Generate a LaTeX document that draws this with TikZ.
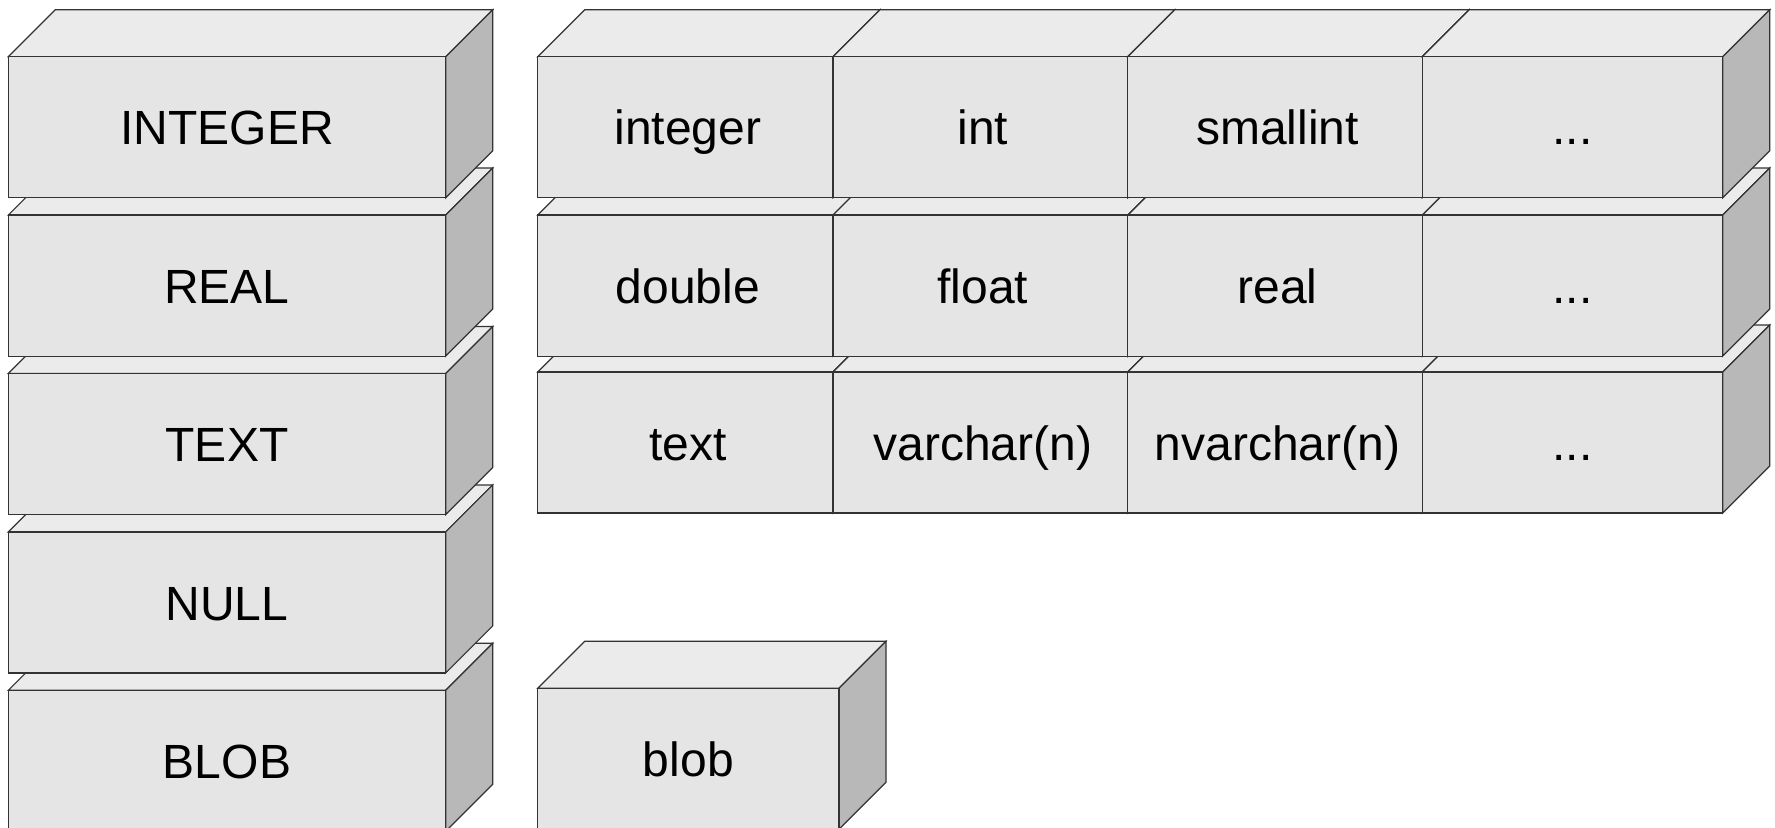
\documentclass[tikz,border=0pt]{standalone}
\usepackage{fontspec}
\setmainfont{Liberation Sans}
\definecolor{frontc}{HTML}{E5E5E5}
\definecolor{topc}{HTML}{EBEBEB}
\definecolor{sidec}{HTML}{B8B8B8}
\definecolor{edgec}{HTML}{333333}
\tikzset{
  frontface/.style={fill=frontc, draw=edgec, line width=0.6pt, line join=miter},
  topface/.style={fill=topc, draw=edgec, line width=0.6pt},
  sideface/.style={fill=sidec, draw=edgec, line width=0.6pt},
  lbl/.style={inner sep=0pt, anchor=base, font=\fontsize{24}{28}\selectfont, text=black}
}
% #1 name, #2 x, #3 y (front top-left), #4 width, #5 height, #6 text, #7 text x shift
\newcommand\dbcube[7]{%
  \filldraw[topface] (#2,#3) -- ++(47,-47) -- ++(#4,0) -- ++(-47,47) -- cycle;
  \filldraw[sideface] (#2+#4,#3) -- ++(47,-47) -- ++(0,#5) -- ++(-47,47) -- cycle;
  \filldraw[frontface] (#2,#3) rectangle ++(#4,#5);
  \node[lbl] (#1) at (#2+#4/2+#7,#3+88.3) {#6};
}
\begin{document}
\begin{tikzpicture}[x=0.5pt,y=-0.5pt]
\useasboundingbox (0,0) rectangle (1775,828);
\clip (0,0) rectangle (1775,828);
% left column, bottom to top
\dbcube{BLOB}{8.3}{690.3}{437.4}{141}{BLOB}{0}
\dbcube{NULL}{8.3}{531.9}{437.4}{141}{NULL}{0}
\dbcube{TEXT}{8.3}{373.5}{437.4}{141}{TEXT}{0}
\dbcube{REAL}{8.3}{215.1}{437.4}{141}{REAL}{0}
\dbcube{INTEGER}{8.3}{56.7}{437.4}{141}{INTEGER}{0}
% right grid, row 3
\dbcube{text}{537.7}{372}{295.3}{141}{text}{2.5}
\dbcube{varchar}{833}{372}{294.8}{141}{varchar(n)}{2.5}
\dbcube{nvarchar}{1127.8}{372}{294.5}{141}{nvarchar(n)}{2.5}
\dbcube{dots3}{1422.3}{372}{300.4}{141}{...}{0}
% row 2
\dbcube{double}{537.7}{215.1}{295.3}{141}{double}{2.5}
\dbcube{float}{833}{215.1}{294.8}{141}{float}{2.5}
\dbcube{real}{1127.8}{215.1}{294.5}{141}{real}{2.5}
\dbcube{dots2}{1422.3}{215.1}{300.4}{141}{...}{0}
% row 1
\dbcube{integer}{537.7}{56.7}{295.3}{141}{integer}{2.5}
\dbcube{int}{833}{56.7}{294.8}{141}{int}{2.5}
\dbcube{smallint}{1127.8}{56.7}{294.5}{141}{smallint}{2.5}
\dbcube{dots1}{1422.3}{56.7}{300.4}{141}{...}{0}
% blob
\dbcube{blob}{537.7}{688.3}{301.3}{141}{blob}{0}
\end{tikzpicture}
\end{document}
